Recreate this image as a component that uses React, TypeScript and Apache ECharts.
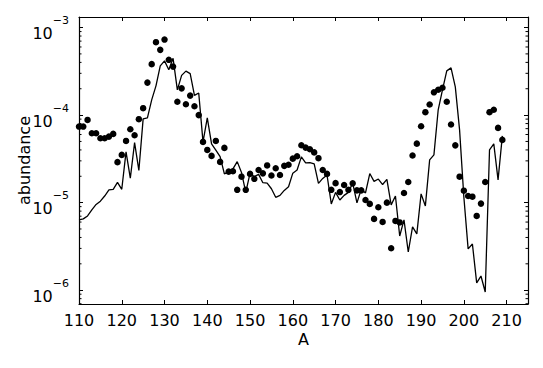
import React, { useEffect, useRef } from "react";
import * as echarts from "echarts";

const massNumbers = [
  110, 111, 112, 113, 114, 115, 116, 117, 118, 119,
  120, 121, 122, 123, 124, 125, 126, 127, 128, 129,
  130, 131, 132, 133, 134, 135, 136, 137, 138, 139,
  140, 141, 142, 143, 144, 145, 146, 147, 148, 149,
  150, 151, 152, 153, 154, 155, 156, 157, 158, 159,
  160, 161, 162, 163, 164, 165, 166, 167, 168, 169,
  170, 171, 172, 173, 174, 175, 176, 177, 178, 179,
  180, 181, 182, 183, 184, 185, 186, 187, 188, 189,
  190, 191, 192, 193, 194, 195, 196, 197, 198, 199,
  200, 201, 202, 203, 204, 205, 206, 207, 208, 209,
];

const observedAbundance = [
  7.39e-5, 7.39e-5, 8.81e-5, 6.21e-5, 6.21e-5, 5.44e-5, 5.44e-5, 5.68e-5, 6.1e-5, 2.9e-5,
  3.51e-5, 5.07e-5, 6.9e-5, 5.89e-5, 8.98e-5, 1.2e-4, 2.35e-4, 3.82e-4, 6.81e-4, 5.56e-4,
  7.29e-4, 4.28e-4, 3.58e-4, 1.42e-4, 2.02e-4, 1.33e-4, 1.67e-4, 1.26e-4, 1.0e-4, 4.94e-5,
  4.0e-5, 3.42e-5, 5.07e-5, 2.92e-5, 4.22e-5, 2.26e-5, 2.28e-5, 1.4e-5, 1.98e-5, 1.4e-5,
  2.13e-5, 1.87e-5, 2.36e-5, 2.16e-5, 2.66e-5, 2.04e-5, 2.47e-5, 2.07e-5, 2.63e-5, 2.71e-5,
  3.18e-5, 3.39e-5, 4.53e-5, 4.25e-5, 4.07e-5, 3.75e-5, 3.22e-5, 2.36e-5, 2.13e-5, 1.4e-5,
  1.67e-5, 1.32e-5, 1.59e-5, 1.4e-5, 1.66e-5, 1.38e-5, 1.38e-5, 1.07e-5, 9.67e-6, 6.52e-6,
  8.86e-6, 6.02e-6, 1.0e-5, 3.01e-6, 6.18e-6, 5.94e-6, 1.29e-5, 1.72e-5, 3.46e-5, 4.72e-5,
  7.46e-5, 1.08e-4, 1.32e-4, 1.82e-4, 1.95e-4, 2.05e-4, 1.42e-4, 7.81e-5, 4.51e-5, 1.98e-5,
  1.37e-5, 1.19e-5, 1.17e-5, 7.05e-6, 9.75e-6, 1.72e-5, 1.08e-4, 1.15e-4, 7.14e-5, 5.21e-5,
];

const modelAbundance = [
  6.34e-6, 6.52e-6, 7.05e-6, 8.26e-6, 9.53e-6, 1.04e-5, 1.19e-5, 1.4e-5, 1.42e-5, 1.7e-5,
  1.42e-5, 3.8e-5, 1.9e-5, 4.85e-5, 2.33e-5, 9.05e-5, 9.29e-5, 1.49e-4, 2.16e-4, 3.65e-4,
  4.16e-4, 3.29e-4, 4.45e-4, 1.94e-4, 2.84e-4, 3.18e-4, 2.98e-4, 1.68e-4, 1.79e-4, 4.94e-5,
  9.29e-5, 4.69e-5, 3.97e-5, 3.36e-5, 2.13e-5, 2.26e-5, 2.43e-5, 2.94e-5, 2.21e-5, 1.31e-5,
  2.17e-5, 1.98e-5, 2.1e-5, 1.69e-5, 1.67e-5, 1.44e-5, 1.15e-5, 1.21e-5, 1.38e-5, 1.52e-5,
  2.17e-5, 2.36e-5, 3.33e-5, 2.84e-5, 2.86e-5, 2.77e-5, 1.66e-5, 1.89e-5, 2.07e-5, 9.67e-6,
  1.31e-5, 1.07e-5, 1.21e-5, 1.31e-5, 1.68e-5, 9.93e-6, 1.42e-5, 1.29e-5, 2.15e-5, 1.75e-5,
  1.86e-5, 1.61e-5, 1.84e-5, 9.42e-6, 1.19e-5, 4.16e-6, 6.34e-6, 2.73e-6, 5.28e-6, 4.39e-6,
  1.26e-5, 9.17e-6, 3.08e-5, 3.51e-5, 1.15e-4, 1.94e-4, 3.2e-4, 3.46e-4, 2.1e-4, 6.78e-5,
  1.16e-5, 2.96e-6, 3.37e-6, 1.21e-6, 1.45e-6, 9.53e-7, 4.0e-5, 4.69e-5, 1.82e-5, 5.78e-5,
];

const xMin = 110;
const xMax = 215;
const xStep = 10;
const yMin = 6.95e-7;
const yMax = 1.32e-3;
const minorMultipliers = [2, 3, 4, 5, 6, 7, 8, 9];
const decadeExponents = [-7, -6, -5, -4, -3];

const FONT = "DejaVu Sans";

export default function App() {
  const ref = useRef<HTMLDivElement>(null);

  useEffect(() => {
    if (!ref.current) return;
    const chart = echarts.init(ref.current, undefined, { renderer: "svg" });

    const minorValues: number[] = [];
    decadeExponents.forEach((e) => {
      minorMultipliers.forEach((m) => {
        const v = m * Math.pow(10, e);
        if (v > yMin && v < yMax) minorValues.push(v);
      });
    });

    const frameLine = { show: true, lineStyle: { color: "#000", width: 1.2 } };

    const yLabelFormatter = (v: number) => {
      const l = Math.log10(v);
      const r = Math.round(l);
      if (Math.abs(l - r) > 1e-3) return "";
      return "{b|10}{e|\u2212" + Math.abs(r) + "}";
    };

    chart.setOption({
      animation: false,
      grid: { left: 79, right: 15, top: 17, bottom: 64, containLabel: false },
      xAxis: [
        {
          type: "value",
          min: xMin,
          max: xMax,
          interval: xStep,
          position: "bottom",
          name: "A",
          nameLocation: "middle",
          nameGap: 27,
          nameMoveOverlap: false,
          nameTextStyle: { fontFamily: FONT, fontSize: 16, color: "#000" },
          axisLine: frameLine,
          axisTick: { show: true, inside: true, length: 4, lineStyle: { color: "#000", width: 1 } },
          axisLabel: {
            fontFamily: FONT,
            fontSize: 16,
            color: "#000",
            margin: 8,
            formatter: (v: number) => (v % xStep === 0 && v <= 210 ? String(v) : ""),
          },
          splitLine: { show: false },
        },
        {
          type: "value",
          min: xMin,
          max: xMax,
          interval: xStep,
          position: "top",
          axisLine: frameLine,
          axisTick: { show: true, inside: true, length: 4, lineStyle: { color: "#000", width: 1 } },
          axisLabel: { show: false },
          splitLine: { show: false },
        },
      ],
      yAxis: [
        {
          type: "log",
          logBase: 10,
          min: yMin,
          max: yMax,
          position: "left",
          name: "abundance",
          nameLocation: "middle",
          nameGap: 47,
          nameMoveOverlap: false,
          nameTextStyle: { fontFamily: FONT, fontSize: 16, color: "#000" },
          axisLine: frameLine,
          axisTick: { show: true, inside: true, length: 4, lineStyle: { color: "#000", width: 1 } },
          axisLabel: {
            color: "#000",
            margin: 10,
            formatter: yLabelFormatter,
            rich: {
              b: { fontFamily: FONT, fontSize: 16, lineHeight: 16, color: "#000", padding: [12, 0, 0, 0] },
              e: { fontFamily: FONT, fontSize: 11, lineHeight: 11, color: "#000", padding: [0, 0, 14, 0] },
            },
          },
          splitLine: { show: false },
          minorTick: { show: false },
        },
        {
          type: "log",
          logBase: 10,
          min: yMin,
          max: yMax,
          position: "right",
          axisLine: frameLine,
          axisTick: { show: true, inside: true, length: 4, lineStyle: { color: "#000", width: 1 } },
          axisLabel: { show: false },
          splitLine: { show: false },
        },
      ],
      series: [
        {
          type: "line",
          xAxisIndex: 0,
          yAxisIndex: 0,
          data: massNumbers.map((a, i) => [a, modelAbundance[i]]),
          showSymbol: false,
          symbol: "none",
          lineStyle: { color: "#000", width: 1.3 },
          z: 3,
        },
        {
          type: "scatter",
          xAxisIndex: 0,
          yAxisIndex: 0,
          data: massNumbers.map((a, i) => [a, observedAbundance[i]]),
          symbol: "circle",
          symbolSize: 6.5,
          itemStyle: { color: "#000", opacity: 1 },
          z: 4,
        },
        {
          type: "custom",
          xAxisIndex: 0,
          yAxisIndex: 0,
          silent: true,
          clip: false,
          data: minorValues.map((v) => [xMin, v]),
          renderItem: (params: any, api: any) => {
            const v = api.value(1);
            const pl = api.coord([xMin, v]);
            const pr = api.coord([xMax, v]);
            const st = { stroke: "#000", lineWidth: 1 };
            return {
              type: "group",
              children: [
                { type: "line", shape: { x1: pl[0], y1: pl[1], x2: pl[0] + 2.5, y2: pl[1] }, style: st },
                { type: "line", shape: { x1: pr[0] - 2.5, y1: pr[1], x2: pr[0], y2: pr[1] }, style: st },
              ],
            };
          },
          z: 5,
        },
      ],
    });

    return () => chart.dispose();
  }, []);

  return (
    <div
      ref={ref}
      style={{ position: "fixed", left: 0, top: 0, width: 543, height: 368, background: "#fff" }}
    />
  );
}
